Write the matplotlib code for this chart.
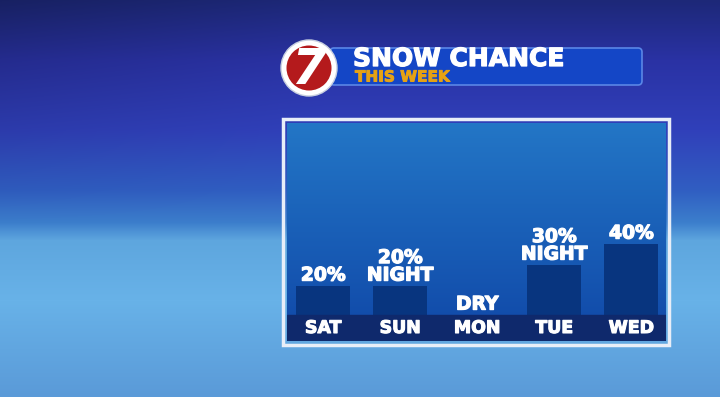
"""
Snow chance this week - TV weather graphic.
"""

import numpy as np
import matplotlib
matplotlib.use("Agg")
import matplotlib.pyplot as plt
from matplotlib.patches import Rectangle, Circle, FancyBboxPatch
import matplotlib.patheffects as pe

# data
days = ["SAT", "SUN", "MON", "TUE", "WED"]
chance = [20, 20, 0, 30, 40]
labels = ["20%", "20%\nNIGHT", "DRY", "30%\nNIGHT", "40%"]
title = "SNOW CHANCE"
subtitle = "THIS WEEK"

W, H = 720, 397
fig = plt.figure(figsize=(W / 100, H / 100), dpi=100)

# background axes in pixel coords
bg = fig.add_axes([0, 0, 1, 1])
bg.set_xlim(0, W)
bg.set_ylim(H, 0)
bg.axis("off")


def hex2rgb(h):
    h = h.lstrip("#")
    return np.array([int(h[i:i + 2], 16) for i in (0, 2, 4)]) / 255.0


stops_y = [0, 60, 130, 190, 222, 240, 300, 397]
stops_c = ["#1d2878", "#2a32a4", "#3040ba", "#305ec2", "#3c7ecc",
           "#5ea6de", "#68b2e8", "#5a9ad8"]
cols = np.array([hex2rgb(c) for c in stops_c])
yy = np.arange(H)
grad = np.stack([np.interp(yy, stops_y, cols[:, k]) for k in range(3)], axis=1)
img = np.repeat(grad[:, None, :], W, axis=1)
# left side darker in the upper half
xx = np.linspace(0, 1, W)
shade = 1 - 0.18 * np.clip(1 - xx / 0.45, 0, 1)[None, :] * np.clip(1 - yy / 230, 0, 1)[:, None]
img = img * shade[:, :, None]
bg.imshow(img, extent=(0, W, H, 0), aspect="auto", zorder=0)

# panel frame
bg.add_patch(Rectangle((283, 119), 386, 226, facecolor="none",
                       edgecolor="#e8eef8", linewidth=2.5, zorder=2))

# banner
bg.add_patch(FancyBboxPatch((330, 48), 312, 37,
                            boxstyle="round,pad=0,rounding_size=4",
                            facecolor="#1446c6", edgecolor="#5a86e6",
                            linewidth=1.2, zorder=3))
heavy = [pe.withStroke(linewidth=0.9, foreground="white")]
bg.text(353, 59, title, color="white", fontsize=18, fontweight="bold",
        va="center", ha="left", zorder=4, path_effects=heavy)
bg.text(355, 77, subtitle, color="#e6a214", fontsize=11, fontweight="bold",
        va="center", ha="left", zorder=4,
        path_effects=[pe.withStroke(linewidth=0.7, foreground="#e6a214")])

# logo
bg.add_patch(Circle((309, 68), 28, facecolor="white", edgecolor="#c8d0e0",
                    linewidth=1, zorder=5))
bg.add_patch(Circle((309, 68), 22.5, facecolor="#b41a1c", edgecolor="none",
                    zorder=6))
bg.text(308, 70, "7", color="white", fontsize=36, fontweight="bold",
        fontstyle="italic", ha="center", va="center", zorder=7)

# chart axes
ax = fig.add_axes([287 / W, 1 - 341 / H, 379 / W, 218 / H])
ax.set_xlim(-0.47, 4.45)
ax.set_ylim(-6.2, 97.6)
ax.axis("off")

panel = np.linspace(0, 1, 100)[:, None]
pc = np.array([hex2rgb("#2376c6"), hex2rgb("#1048a8")])
pimg = pc[0] * (1 - panel[:, :, None]) + pc[1] * panel[:, :, None]
pimg = np.repeat(pimg, 10, axis=1)
ax.imshow(pimg, extent=(-0.47, 4.45, -6.2, 97.6), aspect="auto", zorder=0)

x = np.arange(len(days))
ax.bar(x, chance, width=0.70, color="#08357f", zorder=2)

strip_top = 6.2
ax.axhspan(-6.2, strip_top, color="#0f296c", zorder=3)

for xi, v, lab in zip(x, chance, labels):
    ax.annotate(lab, (xi, max(v, strip_top)), xytext=(0, 1), textcoords="offset points",
                ha="center", va="bottom", color="white", fontsize=13.5,
                fontweight="bold", linespacing=0.9, zorder=4,
                path_effects=[pe.withStroke(linewidth=0.9, foreground="white")])
for xi, d in zip(x, days):
    ax.text(xi, 0, d, ha="center", va="center", color="white", fontsize=12.5,
            fontweight="bold", zorder=4,
            path_effects=[pe.withStroke(linewidth=0.8, foreground="white")])

fig.savefig("out.png", dpi=100)
